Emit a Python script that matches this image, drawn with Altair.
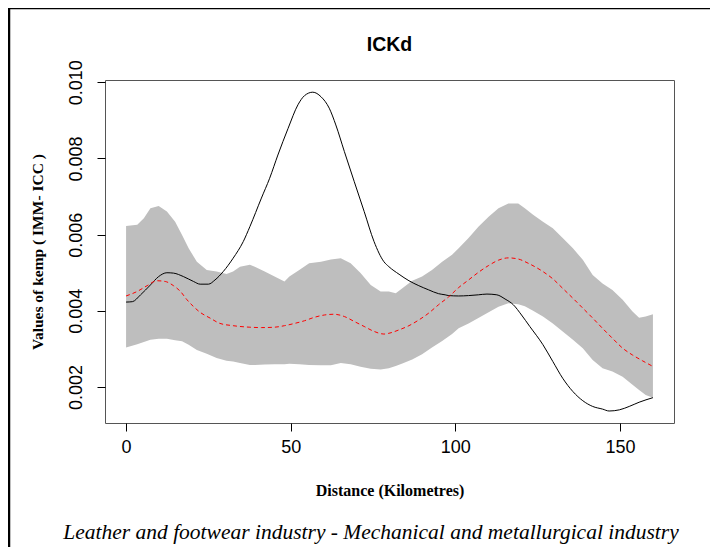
import altair as alt
import pandas as pd

# ---- data ----
band_dist = [0, 3.4, 5.4, 7.4, 9.9, 12.4, 14.9, 17.0, 19.0, 21.5, 24.5, 27.5, 30.5, 32.5, 34.6, 37.6,
             39.1, 42.1, 45.1, 48.1, 49.6, 52.6, 55.6, 59.2, 62.2, 65.2, 68.2, 71.2, 74.3, 77.3,
             79.8, 81.9, 83.9, 86.9, 89.9, 92.9, 96.0, 99.0, 101.0, 104.0, 107.0, 110.1, 113.1, 116.1, 119.1, 121.1,
             123.6, 126.6, 129.6, 132.6, 135.7, 138.7, 141.7, 144.7, 147.7, 150.8, 153.8, 155.8, 157.8, 160]
band_upper = [0.00623, 0.00626, 0.00643, 0.00669, 0.00675, 0.00661, 0.00634, 0.00599, 0.00564, 0.00529, 0.00507, 0.00503, 0.00497, 0.00503, 0.00516, 0.00521,
              0.00516, 0.00503, 0.00490, 0.00477, 0.00490, 0.00507, 0.00525, 0.00529, 0.00535, 0.00538, 0.00525, 0.00499, 0.00468, 0.00451,
              0.00451, 0.00446, 0.00459, 0.00479, 0.00490, 0.00507, 0.00529, 0.00547, 0.00564, 0.00591, 0.00621, 0.00647, 0.00669, 0.00682, 0.00682, 0.00669,
              0.00652, 0.00634, 0.00617, 0.00591, 0.00564, 0.00534, 0.00494, 0.00472, 0.00455, 0.00429, 0.00398, 0.00382, 0.00385, 0.00391]
band_lower = [0.00304, 0.00312, 0.00318, 0.00324, 0.00327, 0.00327, 0.00323, 0.00320, 0.00311, 0.00297, 0.00287, 0.00276, 0.00269, 0.00267, 0.00263, 0.00258,
              0.00258, 0.00259, 0.00260, 0.00260, 0.00261, 0.00260, 0.00258, 0.00257, 0.00257, 0.00263, 0.00260, 0.00253, 0.00248, 0.00246,
              0.00249, 0.00255, 0.00262, 0.00272, 0.00286, 0.00304, 0.00321, 0.00339, 0.00354, 0.00367, 0.00381, 0.00396, 0.00411, 0.00420, 0.00417, 0.00412,
              0.00400, 0.00385, 0.00367, 0.00346, 0.00324, 0.00302, 0.00271, 0.00249, 0.00241, 0.00227, 0.00206, 0.00192, 0.00179, 0.00172]

obs_dist = [0, 1.9, 4.4, 7.4, 9.9, 12.4, 14.4, 17.4, 20.5, 22.5, 25.0, 27.0, 29.5, 32.5, 35.6, 37.6,
            41.1, 43.6, 46.1, 49.2, 52.2, 54.2, 56.7, 59.2, 61.7, 63.7, 66.3, 69.3, 72.3, 75.3, 78.3,
            79.8, 82.9, 85.9, 88.9, 91.9, 94.9, 96.9, 98.0, 101.0, 104.0, 107.0, 109.6, 112.6, 115.1, 117.6, 120.1, 122.6,
            126.6, 129.6, 132.6, 135.7, 138.7, 141.7, 144.7, 146.7, 149.8, 152.8, 155.8, 160]
obs_val = [0.00423, 0.00424, 0.00442, 0.00468, 0.00490, 0.00500, 0.00499, 0.00490, 0.00477, 0.00470, 0.00470, 0.00481, 0.00503, 0.00538, 0.00582, 0.00621,
           0.00696, 0.00748, 0.00809, 0.00879, 0.00941, 0.00965, 0.00974, 0.00962, 0.00932, 0.00888, 0.00818, 0.00739, 0.00661, 0.00582, 0.00529,
           0.00516, 0.00496, 0.00479, 0.00466, 0.00455, 0.00445, 0.00442, 0.00440, 0.00439, 0.00440, 0.00442, 0.00444, 0.00442, 0.00431, 0.00416, 0.00389, 0.00359,
           0.00311, 0.00267, 0.00223, 0.00188, 0.00164, 0.00149, 0.00142, 0.00137, 0.00140, 0.00149, 0.00160, 0.00172]

mean_dist = [0, 3.4, 6.4, 9.4, 11.9, 14.4, 16.5, 18.5, 20.5, 22.5, 25.5, 28.5, 32.5, 37.6,
             41.1, 45.1, 48.1, 51.2, 54.2, 57.2, 60.2, 63.2, 66.3, 69.3, 72.3, 75.3, 78.3,
             79.8, 82.9, 85.9, 88.9, 91.9, 94.9, 98.0, 101.0, 104.0, 107.0, 110.1, 113.1, 116.1, 119.1, 122.1,
             126.6, 129.6, 132.6, 135.7, 138.7, 141.7, 144.7, 147.7, 150.8, 153.8, 156.8, 160]
mean_val = [0.00439, 0.00451, 0.00466, 0.00479, 0.00477, 0.00466, 0.00451, 0.00429, 0.00411, 0.00396, 0.00381, 0.00367, 0.00361, 0.00357,
            0.00356, 0.00357, 0.00361, 0.00367, 0.00374, 0.00383, 0.00389, 0.00391, 0.00385, 0.00372, 0.00359, 0.00346, 0.00339,
            0.00341, 0.00350, 0.00361, 0.00376, 0.00394, 0.00416, 0.00437, 0.00461, 0.00481, 0.00501, 0.00519, 0.00533, 0.00539, 0.00536, 0.00525,
            0.00503, 0.00484, 0.00459, 0.00433, 0.00407, 0.00381, 0.00354, 0.00328, 0.00302, 0.00284, 0.00269, 0.00254]

x_ticks = [0, 50, 100, 150]
y_ticks = [0.002, 0.004, 0.006, 0.008, 0.010]

title_text = "ICKd"
x_title = "Distance (Kilometres)"
y_title = "Values of kemp ( IMM- ICC )"
caption = "Leather and footwear industry - Mechanical and metallurgical industry"

band_df = pd.DataFrame({"d": band_dist, "lo": band_lower, "hi": band_upper})
obs_df = pd.DataFrame({"d": obs_dist, "v": obs_val})
mean_df = pd.DataFrame({"d": mean_dist, "v": mean_val})
dummy = pd.DataFrame({"a": [0]})

W, H = 569, 343
PAD = {"left": 97, "top": 72, "right": 36, "bottom": 124}

xscale = alt.Scale(domain=[-6.4, 166.4], nice=False, zero=False)
yscale = alt.Scale(domain=[0.001055, 0.01006], nice=False, zero=False)

xaxis = alt.Axis(values=x_ticks, title=x_title, grid=False, domain=False,
                 tickSize=8, tickColor="black", labelColor="black",
                 labelFont="Liberation Sans", labelFontSize=18, labelPadding=7,
                 titleFont="Liberation Serif", titleFontWeight="bold", titleFontSize=16,
                 titleColor="black", titlePadding=26)
yaxis = alt.Axis(values=y_ticks, format=".3f", title=y_title, grid=False, domain=False,
                 tickSize=8, tickColor="black", labelColor="black",
                 labelFont="Liberation Sans", labelFontSize=18, labelPadding=12,
                 labelAngle=270, labelAlign="center", labelBaseline="bottom",
                 titleFont="Liberation Serif", titleFontWeight="bold", titleFontSize=15.5,
                 titleColor="black", titlePadding=22)

band = alt.Chart(band_df).mark_area(color="#BEBEBE", opacity=1).encode(
    x=alt.X("d:Q", scale=xscale, axis=xaxis),
    y=alt.Y("lo:Q", scale=yscale, axis=yaxis),
    y2="hi:Q",
)
obs = alt.Chart(obs_df).mark_line(color="black", strokeWidth=1, interpolate="monotone").encode(
    x="d:Q", y="v:Q"
)
mean = alt.Chart(mean_df).mark_line(color="#FF0000", strokeWidth=1, strokeDash=[4, 3],
                                    interpolate="monotone").encode(x="d:Q", y="v:Q")

ttl = alt.Chart(dummy).mark_text(text=title_text, font="Liberation Sans", fontWeight="bold",
                                 fontSize=19.5, color="black", align="center", baseline="middle").encode(
    x=alt.value(W / 2), y=alt.value(-35))

cap = alt.Chart(dummy).mark_text(text=caption, font="Liberation Serif", fontStyle="italic",
                                 fontSize=21.5, color="black", align="center", baseline="middle").encode(
    x=alt.value(266), y=alt.value(453))

frame_left = alt.Chart(dummy).mark_rule(color="black", strokeWidth=2.5).encode(
    x=alt.value(-96), y=alt.value(-72), y2=alt.value(540 - 72))
frame_top = alt.Chart(dummy).mark_rule(color="black", strokeWidth=1.5).encode(
    x=alt.value(-97), x2=alt.value(W + PAD["right"]), y=alt.value(-71.5))

chart = alt.layer(band, obs, mean, ttl, cap, frame_left, frame_top).properties(
    width=W, height=H,
    autosize=alt.AutoSizeParams(type="none"),
    padding=PAD,
    background="white",
).configure_view(stroke="#555555", strokeWidth=1)

chart.save("out.html", embed_options={"renderer": "svg", "actions": False})
